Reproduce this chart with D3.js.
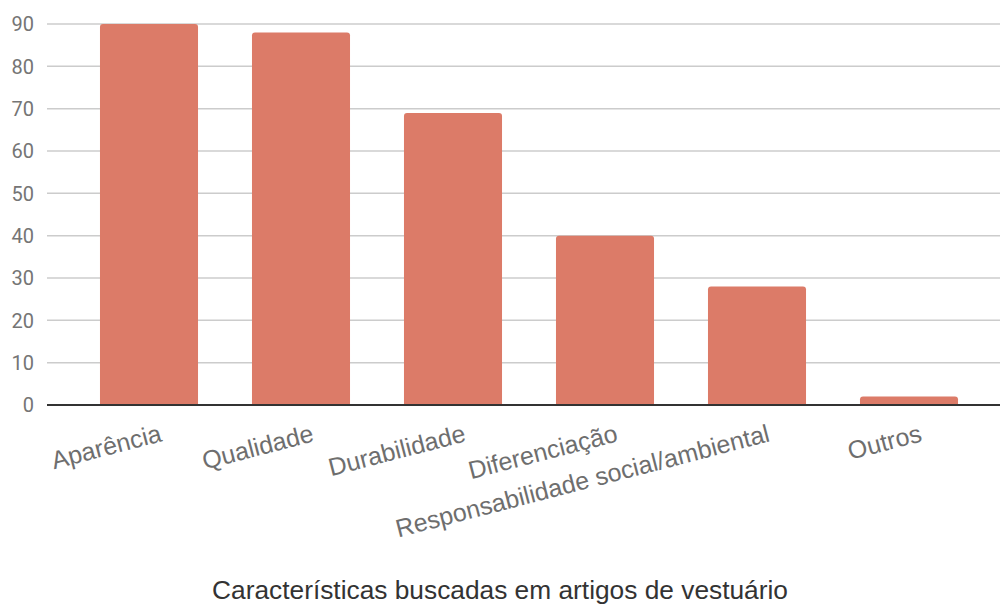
<!DOCTYPE html>
<html>
<head>
<meta charset="utf-8">
<script src="https://cdn.jsdelivr.net/npm/d3@7"></script>
<style>
    body { margin: 0; background: #fff; }
    svg { display: block; }
</style>
</head>
<body>
<div id="chart"></div>
<script>
// chart data
const categories = ['Aparência', 'Qualidade', 'Durabilidade', 'Diferenciação', 'Responsabilidade social/ambiental', 'Outros'];
const values = [90, 88, 69, 40, 28, 2];
const yTicks = [0, 10, 20, 30, 40, 50, 60, 70, 80, 90];
const chartTitle = 'Características buscadas em artigos de vestuário';

const width = 1000;
const height = 606;

const svg = d3.select('#chart')
    .append('svg')
    .attr('width', width)
    .attr('height', height);

// scales
const x = d3.scaleBand()
    .domain(categories)
    .range([73, 985])
    .paddingInner(0.355)
    .paddingOuter(0.1775);

const y = d3.scaleLinear()
    .domain([0, 90])
    .range([405, 24]);

// gridlines
svg.append('g')
    .selectAll('line')
    .data(yTicks.filter(d => d !== 0))
    .enter()
    .append('line')
    .attr('x1', 47)
    .attr('x2', width)
    .attr('y1', d => y(d))
    .attr('y2', d => y(d))
    .style('stroke', '#cccccc')
    .style('stroke-width', 1.5);

// y tick labels
svg.append('g')
    .selectAll('text')
    .data(yTicks)
    .enter()
    .append('text')
    .attr('x', 34)
    .attr('y', d => y(d))
    .attr('dy', '0.36em')
    .attr('text-anchor', 'end')
    .style('font', '20px Roboto, sans-serif')
    .style('fill', '#757575')
    .text(d => d);

// bars with rounded top corners
function barPath(x0, w, yTop, yBottom, r) {
    r = Math.min(r, (yBottom - yTop) / 2);
    return `M ${x0},${yBottom} V ${yTop + r} Q ${x0},${yTop} ${x0 + r},${yTop} ` +
        `H ${x0 + w - r} Q ${x0 + w},${yTop} ${x0 + w},${yTop + r} V ${yBottom} Z`;
}

svg.append('g')
    .selectAll('path')
    .data(categories)
    .enter()
    .append('path')
    .attr('d', (d, i) => barPath(x(d), x.bandwidth(), y(values[i]), y(0), 3))
    .style('fill', '#dc7b68');

// baseline
svg.append('line')
    .attr('x1', 47)
    .attr('x2', width)
    .attr('y1', y(0))
    .attr('y2', y(0))
    .style('stroke', '#333333')
    .style('stroke-width', 2);

// slanted category labels
svg.append('g')
    .selectAll('text')
    .data(categories)
    .enter()
    .append('text')
    .attr('transform', d => `translate(${x(d) + x.bandwidth() / 2 + 14}, 441) rotate(-14.5)`)
    .attr('text-anchor', 'end')
    .style('font', '25px "Liberation Sans", Arial, sans-serif')
    .style('fill', '#6e6e6e')
    .text(d => d);

// title
svg.append('text')
    .attr('x', 500)
    .attr('y', 599)
    .attr('text-anchor', 'middle')
    .style('font', '26.3px "Liberation Sans", Arial, sans-serif')
    .style('fill', '#333333')
    .text(chartTitle);
</script>
</body>
</html>
